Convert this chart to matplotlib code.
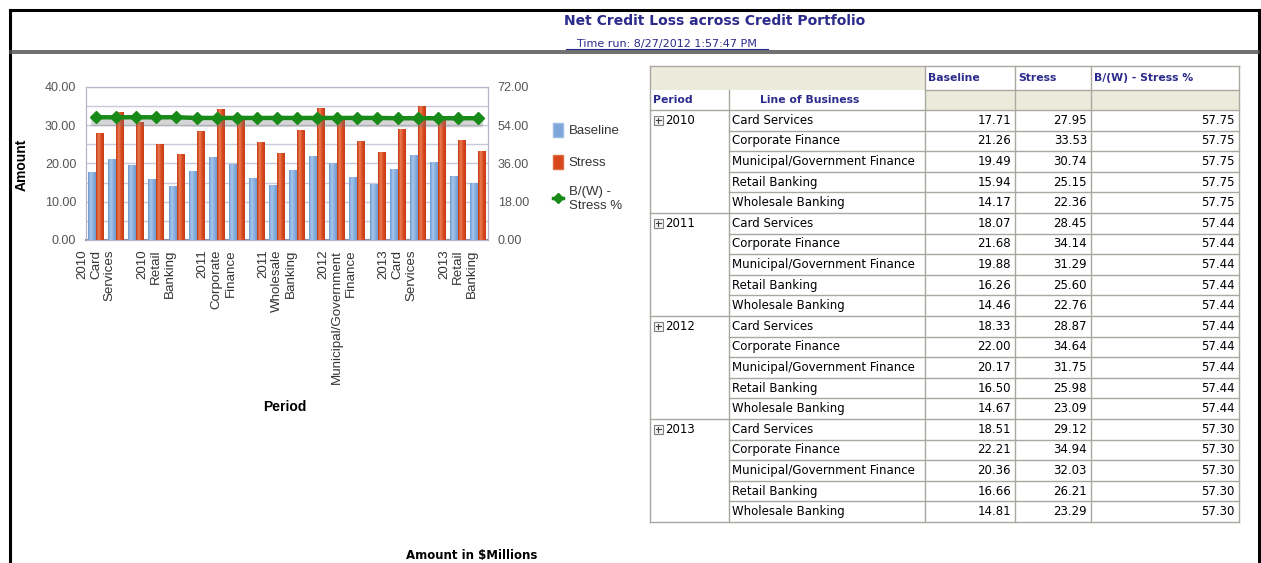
import numpy as np
import matplotlib
matplotlib.use("Agg")
import matplotlib.pyplot as plt
from matplotlib.patches import Rectangle, Patch
from matplotlib.lines import Line2D
from matplotlib.colors import LinearSegmentedColormap
import matplotlib.patheffects as pe

# ---- data ----------------------------------------------------------
periods = ["2010", "2011", "2012", "2013"]
lines_of_business = ["Card Services", "Corporate Finance",
                     "Municipal/Government Finance", "Retail Banking",
                     "Wholesale Banking"]
baseline = [17.71, 21.26, 19.49, 15.94, 14.17,
            18.07, 21.68, 19.88, 16.26, 14.46,
            18.33, 22.00, 20.17, 16.50, 14.67,
            18.51, 22.21, 20.36, 16.66, 14.81]
stress = [27.95, 33.53, 30.74, 25.15, 22.36,
          28.45, 34.14, 31.29, 25.60, 22.76,
          28.87, 34.64, 31.75, 25.98, 23.09,
          29.12, 34.94, 32.03, 26.21, 23.29]
bw_stress_pct = [57.75] * 5 + [57.44] * 5 + [57.44] * 5 + [57.30] * 5

title = "Net Credit Loss across Credit Portfolio"
time_run = "Time run: 8/27/2012 1:57:47 PM"
footer = "Amount in $Millions"

rows = [(p, lob) for p in periods for lob in lines_of_business]
n = len(rows)

# ---- figure --------------------------------------------------------
W, H = 1261, 563
fig = plt.figure(figsize=(W / 100, H / 100), dpi=100)
fig.patch.set_facecolor("white")

# background axes in pixel coordinates for frame, title and table
bg = fig.add_axes([0, 0, 1, 1])
bg.set_xlim(0, W)
bg.set_ylim(H, 0)
bg.axis("off")

NAVY = "#2b2b8c"
bg.plot([10, 10], [10, H], color="black", lw=2.2)
bg.plot([1259, 1259], [10, H], color="black", lw=2.2)
bg.plot([10, 1259], [10, 10], color="black", lw=2.2)
bg.plot([10, 1259], [50.5, 50.5], color="#555555", lw=1.2)
bg.plot([10, 1259], [53, 53], color="#555555", lw=1.2)

bg.text(715, 21, title, ha="center", va="center", fontsize=10,
        fontweight="bold", color=NAVY, family="DejaVu Sans")
bg.text(667, 44, time_run, ha="center", va="center", fontsize=8,
        color=NAVY, family="DejaVu Sans")
bg.plot([566, 768], [49, 49], color=NAVY, lw=0.8)

bg.text(472, 555, footer, ha="center", va="center", fontsize=8.5,
        fontweight="bold", color="black", family="DejaVu Sans")

# ---- table ---------------------------------------------------------
GRID = "#a8a8a0"
BEIGE = "#eceadb"
col_x = [650, 729, 925, 1015, 1091, 1239]
top, h1, h2 = 66, 90, 110
row_h = (522 - h2) / n

bg.add_patch(Rectangle((col_x[0], top), col_x[2] - col_x[0], h1 - top,
                       facecolor=BEIGE, edgecolor="none"))
for k in range(2, 5):
    bg.add_patch(Rectangle((col_x[k], h1), col_x[k + 1] - col_x[k], h2 - h1,
                           facecolor=BEIGE, edgecolor="none"))

hdr_kw = dict(fontsize=7.8, fontweight="bold", color=NAVY,
              family="DejaVu Sans", va="center")
bg.text(col_x[2] + 3, (top + h1) / 2, "Baseline", ha="left", **hdr_kw)
bg.text(col_x[3] + 3, (top + h1) / 2, "Stress", ha="left", **hdr_kw)
bg.text(col_x[4] + 3, (top + h1) / 2, "B/(W) - Stress %", ha="left", **hdr_kw)
bg.text(col_x[0] + 3, (h1 + h2) / 2, "Period", ha="left", **hdr_kw)
bg.text(760, (h1 + h2) / 2, "Line of Business", ha="left", **hdr_kw)

# header grid
bg.plot([col_x[0], col_x[-1]], [top, top], color=GRID, lw=1)
bg.plot([col_x[2], col_x[-1]], [h1, h1], color=GRID, lw=1)
bg.plot([col_x[0], col_x[-1]], [h2, h2], color=GRID, lw=1)
bg.plot([col_x[0], col_x[0]], [top, 522], color=GRID, lw=1)
bg.plot([col_x[1], col_x[1]], [h1, 522], color=GRID, lw=1)
for xx in col_x[2:]:
    bg.plot([xx, xx], [top, 522], color=GRID, lw=1)

body_kw = dict(fontsize=8.5, color="black", family="DejaVu Sans", va="center")
for i, (p, lob) in enumerate(rows):
    y0 = h2 + i * row_h
    yc = y0 + row_h / 2
    bottom = y0 + row_h
    first = lob == lines_of_business[0]
    last = lob == lines_of_business[-1]
    bg.plot([col_x[1] if not last else col_x[0], col_x[-1]],
            [bottom, bottom], color=GRID, lw=1)
    if first:
        bg.add_patch(Rectangle((653.5, yc - 4.5), 9, 9, facecolor="#f4f4f4",
                               edgecolor="#808080", lw=0.8))
        bg.plot([655.5, 660.5], [yc, yc], color="#404040", lw=0.8)
        bg.plot([658, 658], [yc - 2.5, yc + 2.5], color="#404040", lw=0.8)
        bg.text(665, yc, p, ha="left", **body_kw)
    bg.text(col_x[1] + 3, yc, lob, ha="left", **body_kw)
    bg.text(col_x[3] - 4, yc, f"{baseline[i]:.2f}", ha="right", **body_kw)
    bg.text(col_x[4] - 4, yc, f"{stress[i]:.2f}", ha="right", **body_kw)
    bg.text(col_x[5] - 4, yc, f"{bw_stress_pct[i]:.2f}", ha="right", **body_kw)

# ---- chart ---------------------------------------------------------
plt.rcParams["font.family"] = ["Liberation Sans", "DejaVu Sans"]
left, right, ptop, pbot = 86, 488, 87, 240
ax = fig.add_axes([left / W, 1 - pbot / H, (right - left) / W, (pbot - ptop) / H])
ax2 = ax.twinx()

x = np.arange(n)
BLUE = "#7fa6da"
RED = "#d8471c"
blue_grad = LinearSegmentedColormap.from_list(
    "bl", ["#6b98d0", "#a9c6ea", "#8bb0df", "#6f9bd2"])
red_grad = LinearSegmentedColormap.from_list(
    "rd", ["#c53a14", "#ec7d52", "#d9491f", "#c63c16"])
bars_b = ax.bar(x - 0.2, baseline, width=0.39, color=BLUE, linewidth=0, zorder=3)
bars_s = ax.bar(x + 0.2, stress, width=0.39, color=RED, linewidth=0, zorder=3)

# horizontal shading inside each bar
grad = np.linspace(0, 1, 32).reshape(1, -1)
for bars, cm in ((bars_b, blue_grad), (bars_s, red_grad)):
    for b in bars:
        bx, bw_ = b.get_x(), b.get_width()
        im = ax.imshow(grad, cmap=cm, aspect="auto", zorder=3.5,
                       extent=(bx, bx + bw_, 0, b.get_height()),
                       interpolation="bilinear")
        im.set_clip_path(b)

ax.set_xlim(-0.5, n - 0.5)
ax.set_ylim(0, 40)
ax.set_yticks([0, 10, 20, 30, 40])
ax.set_yticks(np.arange(0, 41, 5), minor=True)
ax.yaxis.set_major_formatter(matplotlib.ticker.FormatStrFormatter("%.2f"))
ax.grid(axis="y", which="both", color="#c9c9dc", lw=1, zorder=0)
ax.set_axisbelow(True)

ax2.set_ylim(0, 72)
ax2.set_yticks([0, 18, 36, 54, 72])
ax2.yaxis.set_major_formatter(matplotlib.ticker.FormatStrFormatter("%.2f"))
ax2.plot(x, bw_stress_pct, color="#178a17", lw=3.2, zorder=5,
         path_effects=[pe.SimpleLineShadow(offset=(0, -3), shadow_color="#777777",
                                           alpha=0.3, linewidth=7),
                       pe.Normal()])
ax2.plot(x, bw_stress_pct, color="#178a17", ls="none", marker="D",
         markersize=6.5, zorder=6)

for a in (ax, ax2):
    for s in a.spines.values():
        s.set_color("#b4b4cc")
    a.tick_params(axis="y", which="both", length=0, labelsize=9,
                  labelcolor="#555555", pad=7)
ax.spines["bottom"].set_color("#8a8aa8")
ax.spines["bottom"].set_linewidth(1.5)

tick_idx = list(range(0, n, 3))
ax.set_xticks(tick_idx)
ax.set_xticklabels([f"{rows[i][0]}\n{rows[i][1].replace(' ', chr(10))}"
                    for i in tick_idx],
                   rotation=90, ha="center", va="top", multialignment="right",
                   linespacing=1.2, fontsize=9.6, color="#333333")
ax.tick_params(axis="x", length=0, pad=7)

fig.text(22 / W, 1 - 165 / H, "Amount", rotation=90, ha="center", va="center",
         fontsize=10, fontweight="bold")
fig.text(285 / W, 1 - 407 / H, "Period", ha="center", va="center",
         fontsize=10, fontweight="bold")

handles = [Patch(facecolor=BLUE, edgecolor="#9dbbe4"),
           Patch(facecolor=RED, edgecolor="#e06a40"),
           Line2D([], [], color="#178a17", lw=2.5, marker="D", markersize=5)]
fig.legend(handles, ["Baseline", "Stress", "B/(W) -\nStress %"],
           loc="upper left", bbox_to_anchor=(541 / W, 1 - 111 / H),
           frameon=False, fontsize=9.5, labelspacing=1.3, handlelength=0.8,
           handleheight=1.3, handletextpad=0.4, labelcolor="#333333")

fig.savefig("out.png", dpi=100)
